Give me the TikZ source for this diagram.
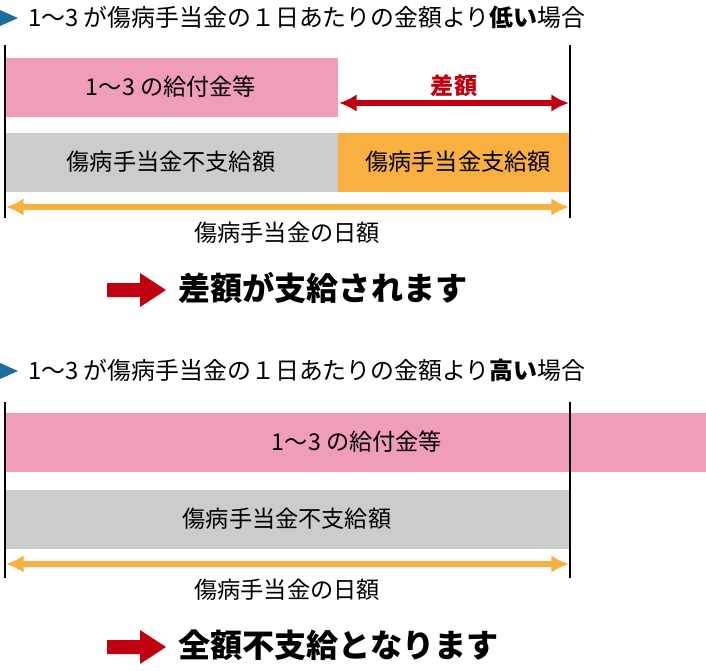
\documentclass[tikz,border=0pt]{standalone}
\usepackage{fontspec}
\setmainfont{Noto Sans CJK JP}
\definecolor{pinkbar}{HTML}{F09DB9}
\definecolor{graybar}{HTML}{CCCCCC}
\definecolor{orangebar}{HTML}{F9B040}
\definecolor{darkred}{HTML}{C00010}
\definecolor{markblue}{HTML}{1B6FA0}
\tikzset{
  bar/.style={draw=none,inner sep=0pt},
  barlabel/.style={font=\fontsize{13.2}{15}\selectfont},
  title/.style={anchor=west,font=\fontsize{13.6}{15}\selectfont},
  result/.style={anchor=west,font=\fontsize{18.3}{20}\selectfont\bfseries},
  span/.style={<->,>={Latex[length=10pt,width=10pt]},line width=3pt},
}
\usetikzlibrary{arrows.meta}
\newcommand{\marker}[1]{\fill[markblue] (0,#1-8) -- (18,#1) -- (0,#1+8) -- cycle;}
\newcommand{\bigarrow}[1]{\fill[darkred] (107,#1-7) -- (140,#1-7) -- (140,#1-17) -- (166,#1) -- (140,#1+17) -- (140,#1+7) -- (107,#1+7) -- cycle;}
\begin{document}
\begin{tikzpicture}[x=0.02cm,y=-0.02cm]
  \useasboundingbox (0,0) rectangle (706,670);

  % upper case
  \marker{18}
  \node[title] (t1) at (22,17) {1～3 が傷病手当金の１日あたりの金額より\textbf{低い}場合};
  \fill[pinkbar] (5,58) rectangle (338,117);
  \node[barlabel] (p1) at (171,87) {1～3 の給付金等};
  \fill[graybar] (5,133) rectangle (338,192);
  \node[barlabel] (g1) at (171,162) {傷病手当金不支給額};
  \fill[orangebar] (338,133) rectangle (570,192);
  \node[barlabel] (o1) at (458,162) {傷病手当金支給額};
  \draw[line width=1.2pt] (5,45) -- (5,218);
  \draw[line width=1.2pt] (570,45) -- (570,218);
  \coordinate (dl) at (339,103);
  \coordinate (dr) at (569,103);
  \draw[span,darkred] (dl) -- (dr);
  \node[barlabel,text=darkred,font=\fontsize{13.2}{15}\selectfont\bfseries] (d1) at (454,86) {差額};
  \coordinate (al) at (6,207);
  \coordinate (ar) at (569,207);
  \draw[span,orangebar] (al) -- (ar);
  \node[barlabel] (a1) at (287,233) {傷病手当金の日額};
  \bigarrow{290}
  \node[result] (r1) at (172,288) {差額が支給されます};

  % lower case
  \marker{371}
  \node[title] (t2) at (22,370) {1～3 が傷病手当金の１日あたりの金額より\textbf{高い}場合};
  \fill[pinkbar] (5,413) rectangle (706,472);
  \node[barlabel] (p2) at (357,442) {1～3 の給付金等};
  \fill[graybar] (5,490) rectangle (570,549);
  \node[barlabel] (g2) at (287,519) {傷病手当金不支給額};
  \draw[line width=1.2pt] (5,402) -- (5,578);
  \draw[line width=1.2pt] (570,402) -- (570,578);
  \coordinate (bl) at (6,564);
  \coordinate (br) at (569,564);
  \draw[span,orangebar] (bl) -- (br);
  \node[barlabel] (a2) at (287,590) {傷病手当金の日額};
  \bigarrow{647}
  \node[result] (r2) at (172,645) {全額不支給となります};
\end{tikzpicture}
\end{document}
